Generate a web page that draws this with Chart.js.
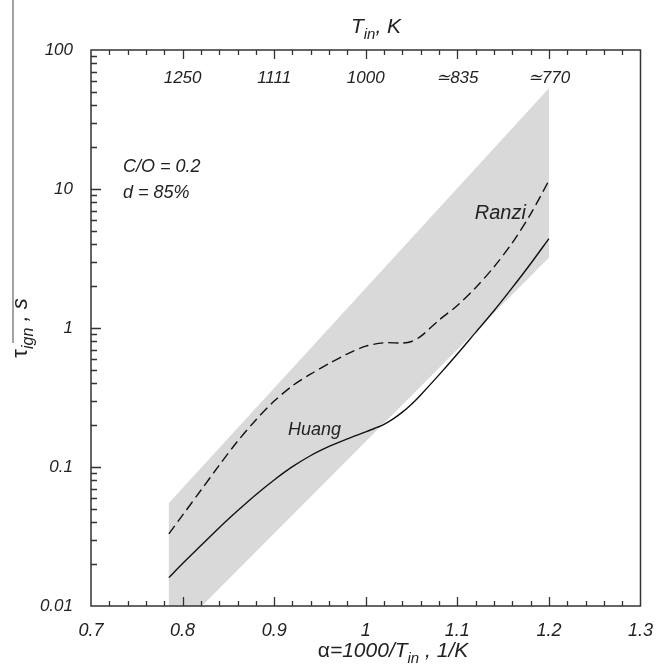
<!DOCTYPE html>
<html>
<head>
<meta charset="utf-8">
<script src="https://cdn.jsdelivr.net/npm/chart.js@4.4.1/dist/chart.umd.min.js"></script>
<style>
  html, body { margin: 0; padding: 0; background: #fff; }
  #wrap { width: 659px; height: 668px; position: relative; }
</style>
</head>
<body>
<div id="wrap"><canvas id="chart"></canvas></div>
<script>
// ignition delay vs alpha = 1000/T_in
const huangAlpha = [0.785, 0.80, 0.82, 0.84, 0.86, 0.88, 0.90, 0.92, 0.94, 0.96, 0.98, 1.0, 1.01, 1.02, 1.03, 1.04, 1.05, 1.06, 1.08, 1.10, 1.12, 1.14, 1.16, 1.18, 1.2];
const huangTau   = [0.016, 0.0202, 0.0272, 0.0366, 0.0484, 0.0632, 0.0807, 0.1005, 0.121, 0.1406, 0.1596, 0.179, 0.19, 0.203, 0.222, 0.248, 0.283, 0.33, 0.46, 0.65, 0.93, 1.33, 1.95, 2.9, 4.4];

const ranziAlpha = [0.785, 0.80, 0.82, 0.84, 0.86, 0.88, 0.90, 0.92, 0.94, 0.96, 0.98, 1.0, 1.02, 1.04, 1.05, 1.06, 1.08, 1.10, 1.12, 1.14, 1.16, 1.18, 1.2];
const ranziTau   = [0.033, 0.045, 0.068, 0.103, 0.153, 0.218, 0.298, 0.384, 0.467, 0.555, 0.652, 0.74, 0.783, 0.78, 0.80, 0.87, 1.14, 1.45, 1.95, 2.75, 4.1, 6.6, 11.5];

// grey scatter band (polygon corners)
const bandAlpha = [0.785, 0.785, 1.2, 1.2, 0.821, 0.785];
const bandTau   = [0.01, 0.055, 53, 3.2, 0.01, 0.01];

const xTickValues = [0.7, 0.8, 0.9, 1.0, 1.1, 1.2, 1.3];
const yTickValues = [0.01, 0.1, 1, 10, 100];
const yTickLabels = ['0.01', '0.1', '1', '10', '100'];
const topTickAlpha = [0.8, 0.9, 1.0, 1.1, 1.2];
const topTickLabels = ['1250', '1111', '1000', '\u2243835', '\u2243770'];

const notes = [
  { text: 'C/O = 0.2', alpha: 0.735, tau: 14.5, size: 18 },
  { text: 'd = 85%', alpha: 0.735, tau: 9.3, size: 18 },
  { text: 'Ranzi', alpha: 1.119, tau: 6.7, size: 20 },
  { text: 'Huang', alpha: 0.915, tau: 0.185, size: 18 },
];

const FONT = '"Liberation Sans", Arial, sans-serif';
const INK = '#222';

const toPts = (xs, ys) => xs.map((x, i) => ({ x: x, y: ys[i] }));

// draw a string made of normal / subscript pieces
function richText(ctx, parts, x, y, size, align) {
  const fontOf = p => `${p.upright ? 'normal' : 'italic'} ${p.sub ? Math.round(size * 0.72) : size}px ${FONT}`;
  const widths = parts.map(p => { ctx.font = fontOf(p); return ctx.measureText(p.t).width; });
  const total = widths.reduce((a, b) => a + b, 0);
  let cx = align === 'center' ? x - total / 2 : x;
  parts.forEach((p, i) => {
    ctx.font = fontOf(p);
    ctx.fillText(p.t, cx, p.sub ? y + size * 0.28 : y);
    cx += widths[i];
  });
}

const framePlugin = {
  id: 'frame',
  afterDraw(chart) {
    const { ctx, chartArea: a, scales } = chart;
    const xs = scales.x, ys = scales.y;
    ctx.save();
    ctx.strokeStyle = '#333';
    ctx.lineWidth = 1.5;
    ctx.strokeRect(a.left, a.top, a.right - a.left, a.bottom - a.top);

    // inward ticks, bottom and top, every 0.02
    ctx.lineWidth = 1.3;
    ctx.beginPath();
    for (let i = 36; i < 65; i++) {
      const px = Math.round(xs.getPixelForValue(i / 50)) + 0.5;
      const len = i % 5 === 0 ? 9 : 5;
      ctx.moveTo(px, a.bottom); ctx.lineTo(px, a.bottom - len);
      ctx.moveTo(px, a.top); ctx.lineTo(px, a.top + len);
    }
    // inward log ticks on the left
    for (let d = -2; d < 2; d++) {
      for (let k = 1; k < 10; k++) {
        const v = k * Math.pow(10, d);
        if (k === 1 && d === -2) continue;
        const py = Math.round(ys.getPixelForValue(v)) + 0.5;
        ctx.moveTo(a.left, py); ctx.lineTo(a.left + (k === 1 ? 10 : 6), py);
      }
    }
    ctx.stroke();

    ctx.fillStyle = INK;
    ctx.textBaseline = 'middle';
    ctx.textAlign = 'center';
    ctx.font = `italic 17px ${FONT}`;
    topTickAlpha.forEach((v, i) => {
      ctx.fillText(topTickLabels[i], xs.getPixelForValue(v), a.top + 28);
    });

    ctx.textAlign = 'left';
    notes.forEach(n => {
      ctx.font = `italic ${n.size}px ${FONT}`;
      ctx.fillText(n.text, xs.getPixelForValue(n.alpha), ys.getPixelForValue(n.tau));
    });

    // axis titles
    ctx.textBaseline = 'alphabetic';
    richText(ctx, [{ t: 'T' }, { t: 'in', sub: true }, { t: ', K' }], 376, 33, 21, 'center');
    richText(ctx, [{ t: '\u03b1', upright: true }, { t: '=1000/T' }, { t: 'in', sub: true }, { t: ' , 1/K' }], 393, 657, 21, 'center');
    ctx.save();
    ctx.translate(27, 328);
    ctx.rotate(-Math.PI / 2);
    richText(ctx, [{ t: '\u03c4', upright: true }, { t: 'ign', sub: true }, { t: ' , s' }], 0, 0, 22, 'center');
    ctx.restore();

    // scan artefact on the left margin
    ctx.strokeStyle = '#666';
    ctx.lineWidth = 1.2;
    ctx.beginPath();
    ctx.moveTo(13, 0); ctx.lineTo(13, 343);
    ctx.stroke();
    ctx.restore();
  }
};

new Chart(document.getElementById('chart').getContext('2d'), {
  type: 'line',
  data: {
    datasets: [
      {
        label: 'band',
        order: 5,
        data: toPts(bandAlpha, bandTau),
        borderWidth: 0,
        borderColor: 'rgba(0,0,0,0)',
        backgroundColor: '#d9d9d9',
        fill: 'shape',
        pointRadius: 0,
        tension: 0,
      },
      {
        label: 'Ranzi',
        order: 2,
        data: toPts(ranziAlpha, ranziTau),
        borderColor: '#111',
        borderWidth: 1.4,
        borderDash: [10, 5],
        fill: false,
        pointRadius: 0,
        tension: 0.3,
      },
      {
        label: 'Huang',
        order: 1,
        data: toPts(huangAlpha, huangTau),
        borderColor: '#111',
        borderWidth: 1.4,
        fill: false,
        pointRadius: 0,
        tension: 0.3,
      },
    ]
  },
  options: {
    responsive: true,
    maintainAspectRatio: false,
    animation: false,
    layout: { padding: { top: 50, right: 18, left: 0, bottom: 0 } },
    plugins: {
      legend: { display: false },
      tooltip: { enabled: false },
    },
    scales: {
      x: {
        type: 'linear',
        min: 0.7,
        max: 1.3,
        grid: { display: false },
        border: { display: false },
        afterBuildTicks: (s) => { s.ticks = xTickValues.map(v => ({ value: v })); },
        ticks: {
          color: INK,
          padding: 6,
          maxRotation: 0,
          font: { family: FONT, style: 'italic', size: 18 },
          callback: (v) => String(Number(v.toFixed(2))),
        },
        afterFit: (s) => { s.height = 62; },
      },
      y: {
        type: 'logarithmic',
        min: 0.01,
        max: 100,
        grid: { display: false },
        border: { display: false },
        afterBuildTicks: (s) => { s.ticks = yTickValues.map(v => ({ value: v })); },
        ticks: {
          color: INK,
          padding: 10,
          font: { family: FONT, style: 'italic', size: 17 },
          callback: (v) => yTickLabels[yTickValues.indexOf(v)],
        },
        afterFit: (s) => { s.width = 91; },
      },
    },
  },
  plugins: [framePlugin],
});
</script>
</body>
</html>
